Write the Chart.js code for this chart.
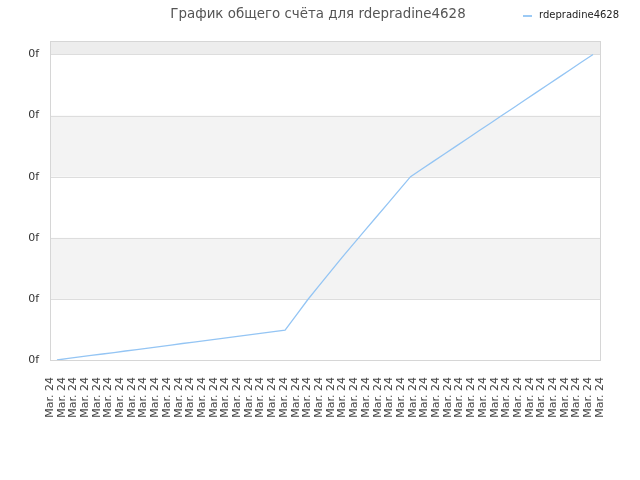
<!DOCTYPE html>
<html>
<head>
<meta charset="utf-8">
<script src="https://cdn.jsdelivr.net/npm/chart.js@4"></script>
<style>
  html, body { margin: 0; padding: 0; background: #fff; }
  #wrap { width: 640px; height: 480px; }
</style>
</head>
<body>
<div id="wrap"><canvas id="chart" width="640" height="480"></canvas></div>
<script>
'use strict';
// chart data
const chartTitle = 'График общего счёта для rdepradine4628';
const seriesName = 'rdepradine4628';
const dayLabels = Array(48).fill('Mar. 24');
const scoreValues = [
  0, 0.025, 0.05, 0.074, 0.098, 0.122, 0.147, 0.171, 0.196, 0.22, 0.245,
  0.27, 0.294, 0.318, 0.343, 0.367, 0.392, 0.416, 0.441, 0.465, 0.49,
  0.74, 0.99, 1.22, 1.45, 1.68, 1.90, 2.12, 2.34, 2.56, 2.78, 3.00,
  3.125, 3.25, 3.375, 3.50, 3.625, 3.75, 3.875, 4.00, 4.125, 4.25, 4.375,
  4.50, 4.625, 4.75, 4.875, 5.00
];
const yTickLabel = '0f';

// points sit a little inside the plot, labels run edge to edge
const points = scoreValues.map((v, i) => ({ x: i, y: v }));

// striped background, frame, title and legend
const decor = {
  id: 'decor',
  beforeDatasetsDraw(chart) {
    const { ctx, chartArea: a, scales } = chart;
    const y = scales.y;
    ctx.save();
    for (let v = 1; v < 5; v += 2) {
      const top = y.getPixelForValue(v + 1), bot = y.getPixelForValue(v);
      ctx.fillStyle = '#f3f3f3';
      ctx.fillRect(a.left, top, a.right - a.left, bot - top);
    }
    ctx.fillStyle = '#ededed';
    ctx.fillRect(a.left, a.top, a.right - a.left, y.getPixelForValue(5) - a.top);
    ctx.strokeStyle = '#dddddd';
    ctx.lineWidth = 1;
    for (let v = 1; v <= 5; v++) {
      const py = Math.round(y.getPixelForValue(v)) + 0.5;
      ctx.beginPath();
      ctx.moveTo(a.left, py);
      ctx.lineTo(a.right, py);
      ctx.stroke();
    }
    ctx.strokeStyle = '#d6d6d6';
    ctx.strokeRect(Math.round(a.left) + 0.5, Math.round(a.top) + 0.5,
      Math.round(a.right - a.left), Math.round(a.bottom - a.top));
    ctx.restore();
  },
  afterDraw(chart) {
    const ctx = chart.ctx;
    ctx.save();
    ctx.font = '13.4px "DejaVu Sans"';
    ctx.fillStyle = '#555555';
    ctx.textAlign = 'center';
    ctx.textBaseline = 'middle';
    ctx.fillText(chartTitle, 318, 14.5);
    ctx.strokeStyle = '#9ccaf5';
    ctx.lineWidth = 2;
    ctx.beginPath();
    ctx.moveTo(523, 16);
    ctx.lineTo(532, 16);
    ctx.stroke();
    ctx.font = '10px "DejaVu Sans"';
    ctx.fillStyle = '#222222';
    ctx.textAlign = 'left';
    ctx.fillText(chart.data.datasets[0].label, 539, 15);
    ctx.restore();
  }
};

const config = {
  type: 'line',
  data: {
    labels: dayLabels,
    datasets: [{
      label: seriesName,
      data: points,
      xAxisID: 'xData',
      borderColor: '#94c5f4',
      borderWidth: 1.3,
      pointRadius: 0,
      tension: 0,
      fill: false
    }]
  },
  options: {
    responsive: false,
    animation: false,
    layout: { padding: { left: 0, right: 40, top: 41, bottom: 0 } },
    plugins: {
      legend: { display: false },
      title: { display: false },
      tooltip: { enabled: false }
    },
    scales: {
      x: {
        type: 'category',
        offset: false,
        grid: { display: false },
        border: { display: false },
        ticks: {
          autoSkip: false,
          minRotation: 90,
          maxRotation: 90,
          padding: 9,
          color: '#444444',
          font: { family: 'DejaVu Sans', size: 11 }
        },
        afterFit(scale) { scale.height = 120; }
      },
      xData: {
        type: 'linear',
        display: false,
        min: -0.61,
        max: 47.61
      },
      y: {
        min: 0,
        max: 5.22,
        grid: { display: false },
        border: { display: false },
        ticks: {
          stepSize: 1,
          includeBounds: false,
          padding: 3,
          color: '#333333',
          font: { family: 'DejaVu Sans', size: 11 },
          callback: () => yTickLabel
        },
        afterFit(scale) { scale.width = 50; }
      }
    }
  },
  plugins: [decor]
};

const canvasElem = document.getElementById('chart');
const myChart = new Chart(canvasElem, config);
</script>
</body>
</html>
